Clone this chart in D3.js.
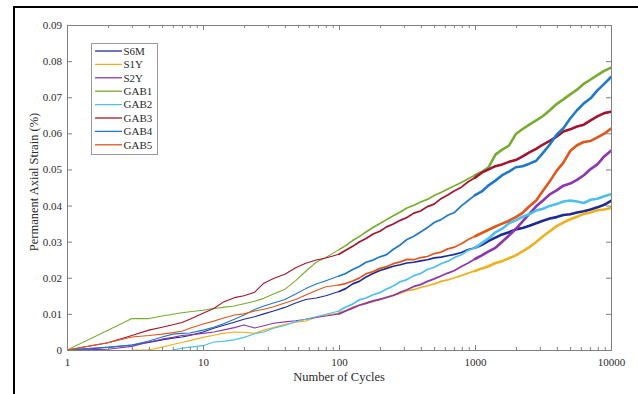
<!DOCTYPE html>
<html><head><meta charset="utf-8">
<script src="https://cdn.jsdelivr.net/npm/d3@7"></script>
<style>body{margin:0;background:#fff}svg{display:block}</style>
</head><body>
<svg id="c" width="638" height="394"></svg>
<script>
const cycles = [1,2,3,4,5,6,7,8,10,12,14,17,20,24,28,33,40,48,57,68,80,
  100,112,126,141,158,178,200,224,251,282,316,355,398,447,501,562,631,708,794,891,
  1000,1122,1259,1413,1585,1778,1995,2239,2512,2818,3162,3548,3981,4467,5012,5623,6310,7079,7943,8913,10000];

const seriesNames = ["S6M","S1Y","S2Y","GAB1","GAB2","GAB3","GAB4","GAB5"];
const seriesColors = ["#1c2c96","#edb120","#8c36ad","#77ac30","#4dbeee","#a2142f","#1f78c8","#e0561b"];

const S6M = [0,0.0007,0.0014,0.0021,0.0028,0.0033,0.0036,0.0040,0.0050,0.0060,0.0068,0.0077,0.0085,0.0092,0.0100,0.0108,0.0118,0.0130,0.0140,0.0144,0.0150,
  0.0162,0.0170,0.0183,0.0190,0.0202,0.0212,0.0220,0.0226,0.0232,0.0236,0.0241,0.0243,0.0247,0.0250,0.0255,0.0257,0.0261,0.0265,0.0270,0.0278,
  0.0283,0.0291,0.0302,0.0311,0.0320,0.0326,0.0334,0.0338,0.0344,0.0351,0.0358,0.0364,0.0368,0.0374,0.0376,0.0381,0.0384,0.0389,0.0395,0.0402,0.0413];
const S1Y = [null,null,0,0,0.0008,0.0015,0.0021,0.0026,0.0035,0.0041,0.0046,0.0050,0.0049,0.0046,0.0055,0.0062,0.0071,0.0077,0.0080,0.0091,0.0097,
  0.0102,0.0109,0.0118,0.0124,0.0131,0.0134,0.0141,0.0145,0.0152,0.0157,0.0164,0.0167,0.0173,0.0178,0.0183,0.0190,0.0194,0.0200,0.0206,0.0213,
  0.0219,0.0226,0.0232,0.0241,0.0246,0.0254,0.0262,0.0273,0.0285,0.0299,0.0315,0.0329,0.0343,0.0353,0.0362,0.0369,0.0377,0.0381,0.0387,0.0389,0.0393];
const S2Y = [0,0.0002,0.0010,0.0022,0.0030,0.0035,0.0040,0.0042,0.0046,0.0050,0.0055,0.0062,0.0069,0.0061,0.0067,0.0074,0.0078,0.0081,0.0085,0.0090,0.0094,
  0.0100,0.0108,0.0116,0.0124,0.0129,0.0136,0.0140,0.0146,0.0151,0.0160,0.0167,0.0176,0.0181,0.0190,0.0197,0.0205,0.0213,0.0220,0.0231,0.0241,
  0.0252,0.0262,0.0273,0.0283,0.0300,0.0317,0.0335,0.0356,0.0377,0.0398,0.0414,0.0431,0.0442,0.0455,0.0461,0.0471,0.0484,0.0501,0.0514,0.0536,0.0552];
const GAB1 = [0,0.0055,0.0087,0.0087,0.0094,0.0099,0.0103,0.0106,0.0110,0.0115,0.0118,0.0122,0.0128,0.0135,0.0143,0.0155,0.0168,0.0192,0.0218,0.0243,0.0256,
  0.0278,0.0289,0.0303,0.0314,0.0327,0.0339,0.0350,0.0361,0.0372,0.0382,0.0393,0.0401,0.0410,0.0417,0.0428,0.0436,0.0446,0.0455,0.0464,0.0474,
  0.0484,0.0493,0.0506,0.0541,0.0555,0.0566,0.0598,0.0612,0.0624,0.0636,0.0648,0.0664,0.0681,0.0694,0.0708,0.0721,0.0737,0.0749,0.0761,0.0773,0.0782];
const GAB2 = [null,null,null,null,null,0,0.0005,0.0008,0.0012,0.0022,0.0024,0.0028,0.0035,0.0045,0.0050,0.0060,0.0068,0.0078,0.0085,0.0092,0.0099,
  0.0108,0.0119,0.0127,0.0139,0.0144,0.0153,0.0159,0.0169,0.0177,0.0189,0.0195,0.0206,0.0212,0.0223,0.0229,0.0239,0.0246,0.0256,0.0264,0.0276,
  0.0283,0.0296,0.0309,0.0326,0.0336,0.0351,0.0359,0.0369,0.0376,0.0386,0.0391,0.0399,0.0404,0.0411,0.0414,0.0411,0.0407,0.0416,0.0419,0.0426,0.0431];
const GAB3 = [0,0.0020,0.0040,0.0055,0.0063,0.0070,0.0076,0.0085,0.0102,0.0115,0.0132,0.0145,0.0150,0.0160,0.0185,0.0198,0.0210,0.0228,0.0240,0.0249,0.0255,
  0.0265,0.0276,0.0287,0.0299,0.0309,0.0321,0.0329,0.0341,0.0349,0.0359,0.0367,0.0379,0.0385,0.0397,0.0404,0.0419,0.0429,0.0441,0.0451,0.0466,
  0.0477,0.0491,0.0500,0.0509,0.0514,0.0521,0.0526,0.0536,0.0547,0.0557,0.0569,0.0579,0.0591,0.0605,0.0611,0.0619,0.0624,0.0636,0.0647,0.0656,0.0660];
const GAB4 = [0,0.0008,0.0014,0.0025,0.0036,0.0044,0.0046,0.0047,0.0055,0.0063,0.0072,0.0085,0.0097,0.0112,0.0122,0.0130,0.0140,0.0155,0.0170,0.0183,0.0192,
  0.0205,0.0212,0.0223,0.0231,0.0243,0.0249,0.0258,0.0264,0.0279,0.0291,0.0306,0.0315,0.0327,0.0339,0.0353,0.0361,0.0373,0.0381,0.0399,0.0414,
  0.0429,0.0439,0.0456,0.0469,0.0484,0.0494,0.0506,0.0509,0.0516,0.0524,0.0546,0.0569,0.0596,0.0614,0.0641,0.0664,0.0683,0.0697,0.0719,0.0737,0.0756];
const GAB5 = [0,0.0020,0.0036,0.0040,0.0044,0.0048,0.0052,0.0060,0.0072,0.0080,0.0088,0.0097,0.0100,0.0108,0.0113,0.0120,0.0130,0.0140,0.0152,0.0165,0.0175,
  0.0180,0.0184,0.0191,0.0199,0.0211,0.0217,0.0226,0.0231,0.0239,0.0244,0.0251,0.0250,0.0256,0.0259,0.0267,0.0271,0.0280,0.0285,0.0294,0.0306,
  0.0315,0.0324,0.0333,0.0342,0.0350,0.0358,0.0368,0.0380,0.0398,0.0414,0.0441,0.0467,0.0496,0.0519,0.0551,0.0567,0.0576,0.0579,0.0589,0.0599,0.0613];

const xTickValues = [1,10,100,1000,10000];
const xTickLabels = ["1","10","100","1000","10000"];
const yTickValues = [0,0.01,0.02,0.03,0.04,0.05,0.06,0.07,0.08,0.09];
const yTickLabels = ["0","0.01","0.02","0.03","0.04","0.05","0.06","0.07","0.08","0.09"];
const xTitle = "Number of Cycles";
const yTitle = "Permanent Axial Strain (%)";

const seriesValues = [S6M,S1Y,S2Y,GAB1,GAB2,GAB3,GAB4,GAB5];

const svg = d3.select("#c");
const FONT = "'Liberation Serif','Times New Roman',serif";
const AX = "#808080", TXT = "#2a2a2a";
const P = {l:67, r:611, t:25, b:350};
const x = d3.scaleLog().domain([1,10000]).range([P.l,P.r]);
const y = d3.scaleLinear().domain([0,0.09]).range([P.b,P.t]);

// outer figure frame (partially visible)
svg.append("line").attr("x1",14).attr("x2",14).attr("y1",6).attr("y2",394).attr("stroke","#000").attr("stroke-width",2);
svg.append("line").attr("x1",13).attr("x2",638).attr("y1",7).attr("y2",7).attr("stroke","#000").attr("stroke-width",2);

svg.append("clipPath").attr("id","clip").append("rect")
  .attr("x",P.l).attr("y",P.t-4).attr("width",P.r-P.l+1).attr("height",P.b-P.t+4);

// series
const gLines = svg.append("g").attr("clip-path","url(#clip)");
const segs = [[1,100,1.1],[100,1000,1.7],[1000,10000,2.6]];
const line = d3.line().defined(d=>d.v!=null).x(d=>x(d.c)).y(d=>y(d.v));
seriesValues.forEach((vals,si)=>{
  const pts = cycles.map((c,i)=>({c, v: vals[i]}));
  segs.forEach(([lo,hi,w])=>{
    gLines.append("path")
      .datum(pts.filter(d=>d.c>=lo && d.c<=hi))
      .attr("d",line)
      .attr("fill","none")
      .attr("stroke",seriesColors[si])
      .attr("stroke-width",w)
      .attr("stroke-linejoin","round")
      .attr("stroke-linecap","round");
  });
});

// minor ticks
const minor = [];
for (let e=0;e<4;e++) for (let k=2;k<=9;k++) minor.push(k*Math.pow(10,e));

function styleAxis(g){
  g.selectAll(".domain").remove();
  g.selectAll(".tick line").attr("stroke",AX);
  g.selectAll("text").attr("fill",TXT).style("font-family",FONT).style("font-size","11px");
}

svg.append("g").attr("transform",`translate(0,${P.b})`)
  .call(d3.axisBottom(x).tickValues(xTickValues).tickFormat((d,i)=>xTickLabels[i]).tickSizeInner(-5).tickSizeOuter(0).tickPadding(8))
  .call(styleAxis);
svg.append("g").attr("transform",`translate(0,${P.b})`)
  .call(d3.axisBottom(x).tickValues(minor).tickFormat("").tickSizeInner(-3).tickSizeOuter(0))
  .call(styleAxis);
svg.append("g").attr("transform",`translate(0,${P.t})`)
  .call(d3.axisTop(x).tickValues(xTickValues).tickFormat("").tickSizeInner(-5).tickSizeOuter(0))
  .call(styleAxis);
svg.append("g").attr("transform",`translate(0,${P.t})`)
  .call(d3.axisTop(x).tickValues(minor).tickFormat("").tickSizeInner(-3).tickSizeOuter(0))
  .call(styleAxis);
svg.append("g").attr("transform",`translate(${P.l},0)`)
  .call(d3.axisLeft(y).tickValues(yTickValues).tickFormat((d,i)=>yTickLabels[i]).tickSizeInner(-5).tickSizeOuter(0).tickPadding(5))
  .call(styleAxis);
svg.append("g").attr("transform",`translate(${P.r},0)`)
  .call(d3.axisRight(y).tickValues(yTickValues).tickFormat("").tickSizeInner(-5).tickSizeOuter(0))
  .call(styleAxis);

// axes box
svg.append("rect").attr("x",P.l).attr("y",P.t).attr("width",P.r-P.l).attr("height",P.b-P.t)
  .attr("fill","none").attr("stroke",AX).attr("stroke-width",1).attr("shape-rendering","crispEdges");

// titles
svg.append("text").attr("x",(P.l+P.r)/2).attr("y",381).attr("text-anchor","middle")
  .style("font-family",FONT).style("font-size","12.5px").attr("fill",TXT).text(xTitle);
svg.append("text").attr("transform","translate(38,182) rotate(-90)").attr("text-anchor","middle")
  .style("font-family",FONT).style("font-size","12.5px").attr("fill",TXT).text(yTitle);

// legend
const lg = svg.append("g");
lg.append("rect").attr("x",91).attr("y",43).attr("width",66).attr("height",111)
  .attr("fill","#fff").attr("stroke","#999").attr("stroke-width",1).attr("shape-rendering","crispEdges");
seriesNames.forEach((n,i)=>{
  const yy = 51 + i*13.4;
  lg.append("line").attr("x1",95).attr("x2",122).attr("y1",yy).attr("y2",yy)
    .attr("stroke",seriesColors[i]).attr("stroke-width",1.3);
  lg.append("text").attr("x",123.5).attr("y",yy).attr("dy","0.35em")
    .style("font-family",FONT).style("font-size","11px").attr("fill",TXT).text(n);
});
</script>
</body></html>
